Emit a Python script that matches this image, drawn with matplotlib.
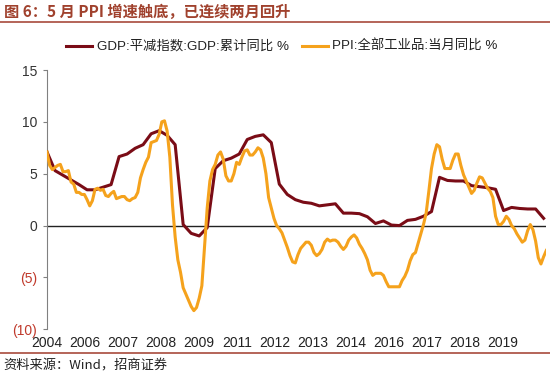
import numpy as np
import matplotlib
matplotlib.use("Agg")
import matplotlib.pyplot as plt
from matplotlib.lines import Line2D

plt.rcParams['font.family'] = ['Liberation Sans', 'Noto Sans CJK SC', 'DejaVu Sans']

# ---------------- data ----------------
# PPI monthly yoy (%), from 2004-12 to 2020-07
ppi = [7.1,
       5.8, 5.4, 5.6, 5.8, 5.9, 5.2, 5.2, 5.3, 4.2, 4.0, 3.2, 3.2,      # 2005
       3.0, 3.0, 2.5, 1.9, 2.4, 3.5, 3.6, 3.4, 3.5, 2.9, 2.8, 3.1,      # 2006
       3.3, 2.6, 2.7, 2.8, 2.8, 2.5, 2.4, 2.6, 2.7, 3.2, 4.6, 5.4,      # 2007
       6.1, 6.6, 8.0, 8.1, 8.2, 8.8, 10.0, 10.1, 9.1, 6.6, 2.0, -1.1,   # 2008
       -3.3, -4.5, -6.0, -6.6, -7.2, -7.8, -8.2, -7.9, -7.0, -5.8, -2.1, 1.7,  # 2009
       4.3, 5.4, 5.9, 6.8, 7.1, 6.4, 4.8, 4.3, 4.3, 5.0, 6.1, 5.9,      # 2010
       6.6, 7.2, 7.3, 6.8, 6.8, 7.1, 7.5, 7.3, 6.5, 5.0, 2.7, 1.7,      # 2011
       0.7, 0.0, -0.3, -0.7, -1.4, -2.1, -2.9, -3.5, -3.6, -2.8, -2.2, -1.9,  # 2012
       -1.6, -1.6, -1.9, -2.6, -2.9, -2.7, -2.3, -1.6, -1.3, -1.5, -1.4, -1.4,  # 2013
       -1.6, -2.0, -2.3, -2.0, -1.4, -1.1, -0.9, -1.2, -1.8, -2.2, -2.7, -3.3,  # 2014
       -4.3, -4.8, -4.6, -4.6, -4.6, -4.8, -5.4, -5.9, -5.9, -5.9, -5.9, -5.9,  # 2015
       -5.3, -4.9, -4.3, -3.4, -2.8, -2.6, -1.7, -0.8, 0.1, 1.2, 3.3, 5.5,    # 2016
       6.9, 7.8, 7.6, 6.4, 5.5, 5.5, 5.5, 6.3, 6.9, 6.9, 5.8, 4.9,      # 2017
       4.3, 3.7, 3.1, 3.4, 4.1, 4.7, 4.6, 4.1, 3.6, 3.3, 2.7, 0.9,      # 2018
       0.1, 0.1, 0.4, 0.9, 0.6, 0.0, -0.3, -0.8, -1.2, -1.6, -1.4, -0.5,  # 2019
       0.1, -0.4, -1.5, -3.1, -3.7, -3.0, -2.4]                          # 2020

# GDP deflator cumulative yoy (%), quarterly from 2004Q4 to 2020Q2
gdp = [7.1,
       5.3, 4.85, 4.4, 3.95,
       3.45, 3.45, 3.7, 3.95,
       6.65, 6.9, 7.45, 7.8,
       8.85, 9.15, 8.7, 7.8,
       0.1, -0.75, -1.0, -0.2,
       5.5, 6.25, 6.5, 6.9,
       8.3, 8.6, 8.75, 8.0,
       4.0, 3.0, 2.5, 2.25,
       2.15, 1.9, 2.0, 2.1,
       1.2, 1.2, 1.15, 0.85,
       0.2, 0.45, 0.05, 0.0,
       0.5, 0.6, 0.9, 1.35,
       4.65, 4.35, 4.3, 4.3,
       3.85, 3.75, 3.65, 3.5,
       1.45, 1.75, 1.65, 1.6,
       1.6, 0.7]

x_labels = ['2004', '2006', '2007', '2008', '2009', '2011', '2012',
            '2013', '2014', '2016', '2017', '2018', '2019']

gdp_label = 'GDP:平减指数:GDP:累计同比 %'
ppi_label = 'PPI:全部工业品:当月同比 %'
title = '图 6：5 月 PPI 增速触底，已连续两月回升'
source = '资料来源：Wind，招商证券'

# ---------------- figure ----------------
W, H = 550, 380
fig = plt.figure(figsize=(W / 100, H / 100), dpi=100)

def fx(px):
    return px / W

def fy(py):
    return 1 - py / H

ax_left, ax_right, ax_top, ax_bot = 47, 546.3, 70, 329.3
ax = fig.add_axes([fx(ax_left), fy(ax_bot), fx(ax_right - ax_left), (ax_bot - ax_top) / H])

maroon = '#7A0C16'
orange = '#F5A21C'

x_ppi = np.arange(len(ppi))
x_gdp = np.arange(len(gdp)) * 3

ax.plot(x_gdp, gdp, color=maroon, lw=2.2, solid_joinstyle='round', zorder=3)
ax.plot(x_ppi, ppi, color=orange, lw=2.2, solid_joinstyle='round', zorder=4)
ax.axhline(0, color='#222222', lw=1.0, zorder=2)

ax.set_xlim(0, len(ppi) - 1)
ax.set_ylim(-10, 15)

# y axis
yt = [-10, -5, 0, 5, 10, 15]
ax.set_yticks(yt)
ax.set_yticklabels([f'({abs(v)})' if v < 0 else str(v) for v in yt], fontsize=10)
for lab, v in zip(ax.get_yticklabels(), yt):
    lab.set_color('#C0392B' if v < 0 else '#333333')
ax.tick_params(axis='y', direction='out', length=3, width=0.8, color='#808080', pad=4)

# x axis
tick_step = 14.22
ax.set_xticks(np.arange(len(x_labels)) * tick_step)
ax.set_xticklabels(x_labels, fontsize=10, color='#222222')
ax.tick_params(axis='x', length=0, pad=5)

for s in ['top', 'right', 'bottom']:
    ax.spines[s].set_visible(False)
ax.spines['left'].set_color('#808080')
ax.spines['left'].set_linewidth(0.8)

# legend (manual)
ly = fy(46)
fig.add_artist(Line2D([fx(66), fx(92)], [ly, ly], color=maroon, lw=2.2))
fig.text(fx(97), ly, gdp_label, fontsize=9.6, color='#222222', va='center', ha='left')
fig.add_artist(Line2D([fx(302), fx(328)], [ly, ly], color=orange, lw=2.2))
fig.text(fx(332), ly, ppi_label, fontsize=9.6, color='#222222', va='center', ha='left')

# title and frame lines
fig.text(fx(4), fy(12), title, fontsize=11, fontweight='bold', color='#A0412D',
         va='center', ha='left', family=['Noto Sans CJK SC', 'DejaVu Sans'])
fig.add_artist(Line2D([0, 1], [fy(22), fy(22)], color='#A84A3C', lw=1.2))
fig.add_artist(Line2D([0, 1], [fy(353), fy(353)], color='#A84A3C', lw=1.2))
fig.text(fx(3), fy(366), source, fontsize=9.5, color='#222222', va='center', ha='left',
         family=['Noto Sans CJK SC', 'DejaVu Sans'])

fig.savefig('out.png', dpi=100, facecolor='white')
